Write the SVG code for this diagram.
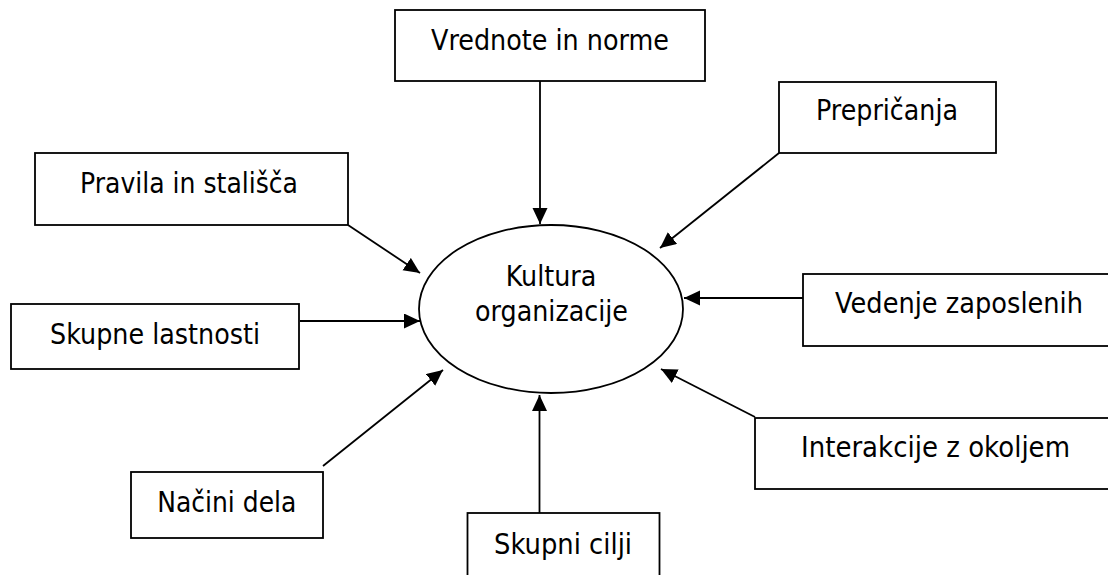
<svg xmlns="http://www.w3.org/2000/svg" width="1108" height="575" viewBox="0 0 1108 575">
<style>
.box{fill:#fff;stroke:#000;stroke-width:1.8}
.lbl{font-family:"DejaVu Sans",Verdana,sans-serif;font-size:29px;fill:#000}
.con{stroke:#000;stroke-width:1.8;fill:none}
</style>
<defs>
<marker id="arr" markerUnits="userSpaceOnUse" markerWidth="18" markerHeight="16" refX="16" refY="7.5" orient="auto">
<path d="M0,0 L16,7.5 L0,15 z" fill="#000"/>
</marker>
</defs>
<rect width="1108" height="575" fill="#fff"/>
<g id="connectors">
<line class="con" x1="540" y1="81" x2="540" y2="224" marker-end="url(#arr)"/>
<line class="con" x1="348" y1="225" x2="420" y2="273" marker-end="url(#arr)"/>
<line class="con" x1="300" y1="321" x2="420" y2="321" marker-end="url(#arr)"/>
<line class="con" x1="779" y1="153" x2="660" y2="248" marker-end="url(#arr)"/>
<line class="con" x1="803" y1="298" x2="684" y2="298" marker-end="url(#arr)"/>
<line class="con" x1="755" y1="417" x2="661" y2="369" marker-end="url(#arr)"/>
<line class="con" x1="323" y1="466" x2="443" y2="370" marker-end="url(#arr)"/>
<line class="con" x1="539.5" y1="513" x2="539.5" y2="395" marker-end="url(#arr)"/>
</g>
<g id="center">
<ellipse class="box" cx="551" cy="309" rx="132" ry="84"/>
<text class="lbl" x="505.7" y="286" textLength="90.7" lengthAdjust="spacingAndGlyphs">Kultura</text>
<text class="lbl" x="475" y="320.7" textLength="153" lengthAdjust="spacingAndGlyphs">organizacije</text>
</g>
<g id="vrednote">
<rect class="box" x="395" y="10" width="310" height="71"/>
<text class="lbl" x="431" y="50" textLength="238" lengthAdjust="spacingAndGlyphs">Vrednote in norme</text>
</g>
<g id="pravila">
<rect class="box" x="35" y="153" width="313" height="72"/>
<text class="lbl" x="80" y="193.3" textLength="218" lengthAdjust="spacingAndGlyphs">Pravila in stališča</text>
</g>
<g id="skupne-lastnosti">
<rect class="box" x="11" y="304" width="288" height="65"/>
<text class="lbl" x="50" y="344" textLength="210" lengthAdjust="spacingAndGlyphs">Skupne lastnosti</text>
</g>
<g id="prepricanja">
<rect class="box" x="779" y="82" width="217" height="71"/>
<text class="lbl" x="816" y="120" textLength="142" lengthAdjust="spacingAndGlyphs">Prepričanja</text>
</g>
<g id="vedenje">
<rect class="box" x="803" y="274" width="330" height="72"/>
<text class="lbl" x="835" y="313.3" textLength="248" lengthAdjust="spacingAndGlyphs">Vedenje zaposlenih</text>
</g>
<g id="interakcije">
<rect class="box" x="755" y="418" width="380" height="71"/>
<text class="lbl" x="801" y="456.7" textLength="269" lengthAdjust="spacingAndGlyphs">Interakcije z okoljem</text>
</g>
<g id="nacini">
<rect class="box" x="131" y="472" width="192" height="66"/>
<text class="lbl" x="157.3" y="511.7" textLength="139" lengthAdjust="spacingAndGlyphs">Načini dela</text>
</g>
<g id="skupni-cilji">
<rect class="box" x="467.5" y="513" width="192" height="80"/>
<text class="lbl" x="494" y="554.3" textLength="138" lengthAdjust="spacingAndGlyphs">Skupni cilji</text>
</g>
</svg>
